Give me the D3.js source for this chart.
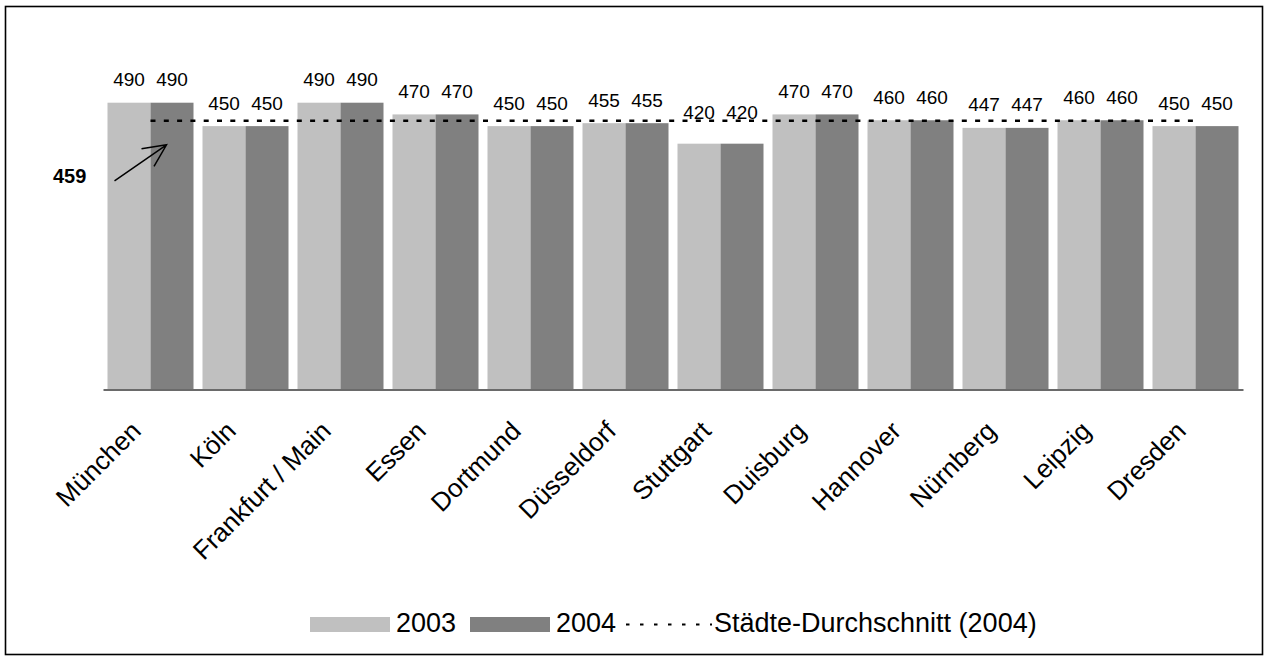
<!DOCTYPE html>
<html>
<head>
<meta charset="utf-8">
<script src="https://cdn.jsdelivr.net/npm/d3@7/dist/d3.min.js"></script>
<style>
  html, body { margin: 0; padding: 0; background: #fff; }
  svg { display: block; font-family: "Liberation Sans", Arial, sans-serif; }
</style>
</head>
<body>
<svg id="chart" width="1270" height="661"></svg>
<script>
const categories = ["München", "Köln", "Frankfurt / Main", "Essen", "Dortmund", "Düsseldorf",
  "Stuttgart", "Duisburg", "Hannover", "Nürnberg", "Leipzig", "Dresden"];
const seriesNames = ["2003", "2004"];
const values2003 = [490, 450, 490, 470, 450, 455, 420, 470, 460, 447, 460, 450];
const values2004 = [490, 450, 490, 470, 450, 455, 420, 470, 460, 447, 460, 450];
const average2004 = 459;
const averageLabel = "Städte-Durchschnitt (2004)";
const colors = ["#c0c0c0", "#808080"];

const svg = d3.select("#chart");
const W = 1270, H = 661;

// outer frame
svg.append("rect").attr("x", 5.5).attr("y", 6.5).attr("width", 1257).attr("height", 648)
  .attr("fill", "none").attr("stroke", "#000").attr("stroke-width", 1.6);

const plot = { left: 103, right: 1243, baseline: 389.5 };
const x = d3.scaleBand().domain(categories).range([plot.left, plot.right])
  .paddingInner(9 / 95).paddingOuter(4.5 / 95);
const xi = d3.scaleBand().domain(seriesNames).range([0, x.bandwidth()]).padding(0);
const y = d3.scaleLinear().domain([0, 500]).range([plot.baseline, plot.baseline - 500 * 0.5853]);

const table = categories.map((c, i) => ({ cat: c, vals: [values2003[i], values2004[i]] }));

const groups = svg.append("g").selectAll("g").data(table).join("g")
  .attr("transform", d => `translate(${x(d.cat)},0)`);

groups.selectAll("rect").data(d => d.vals.map((v, j) => ({ v, s: seriesNames[j], j })))
  .join("rect")
  .attr("x", d => xi(d.s))
  .attr("y", d => y(d.v))
  .attr("width", xi.bandwidth())
  .attr("height", d => y(0) - y(d.v))
  .attr("fill", d => colors[d.j]);

// axis baseline
const xAxis = d3.axisBottom(x).tickSize(0).tickFormat("");
const axisG = svg.append("g").attr("transform", `translate(0,${plot.baseline})`).call(xAxis);
axisG.select(".domain").attr("stroke", "#6a6a6a").attr("stroke-width", 2);

// category labels rotated
svg.append("g").selectAll("text").data(categories).join("text")
  .attr("transform", d => `translate(${x(d) + x.bandwidth() / 2 - 8},${plot.baseline + 43}) rotate(-45)`)
  .attr("text-anchor", "end")
  .attr("font-size", 26)
  .attr("fill", "#000")
  .text(d => d);

// average line
const yAvg = y(average2004);
svg.append("line")
  .attr("x1", x(categories[0]) + x.bandwidth() / 2)
  .attr("x2", x(categories[categories.length - 1]) + x.bandwidth() / 2)
  .attr("y1", yAvg).attr("y2", yAvg)
  .attr("stroke", "#000").attr("stroke-width", 2.5)
  .attr("stroke-dasharray", "5,8.3");

// value labels
groups.selectAll("text.val").data(d => d.vals.map((v, j) => ({ v, s: seriesNames[j] })))
  .join("text").attr("class", "val")
  .attr("x", d => xi(d.s) + xi.bandwidth() / 2)
  .attr("y", d => Math.min(y(d.v) - 16.5, yAvg - 1.5))
  .attr("text-anchor", "middle")
  .attr("font-size", 19)
  .attr("fill", "#000")
  .text(d => d.v);

// average annotation
svg.append("text").attr("x", 53).attr("y", 183)
  .attr("font-size", 20).attr("font-weight", "bold").attr("fill", "#000")
  .text(average2004);
const tipX = x(categories[0]) + xi("2004") + 16, tipY = yAvg + 24;
svg.append("path")
  .attr("d", `M${tipX - 52},${tipY + 36} L${tipX},${tipY} M${tipX - 25},${tipY + 4} L${tipX},${tipY} L${tipX - 12.5},${tipY + 21.5}`)
  .attr("fill", "none").attr("stroke", "#000").attr("stroke-width", 1.5);

// legend
const lg = svg.append("g");
const legendItems = [
  { type: "rect", color: colors[0], label: seriesNames[0], x: 310, tx: 396 },
  { type: "rect", color: colors[1], label: seriesNames[1], x: 470, tx: 556 },
];
legendItems.forEach(it => {
  lg.append("rect").attr("x", it.x).attr("y", 617).attr("width", 80).attr("height", 15).attr("fill", it.color);
  lg.append("text").attr("x", it.tx).attr("y", 632).attr("font-size", 27).attr("fill", "#000").text(it.label);
});
lg.append("line").attr("x1", 626).attr("x2", 712).attr("y1", 624.5).attr("y2", 624.5)
  .attr("stroke", "#000").attr("stroke-width", 2).attr("stroke-dasharray", "3.5,10.5");
lg.append("text").attr("x", 714).attr("y", 632).attr("font-size", 27).attr("fill", "#000").text(averageLabel);
</script>
</body>
</html>
